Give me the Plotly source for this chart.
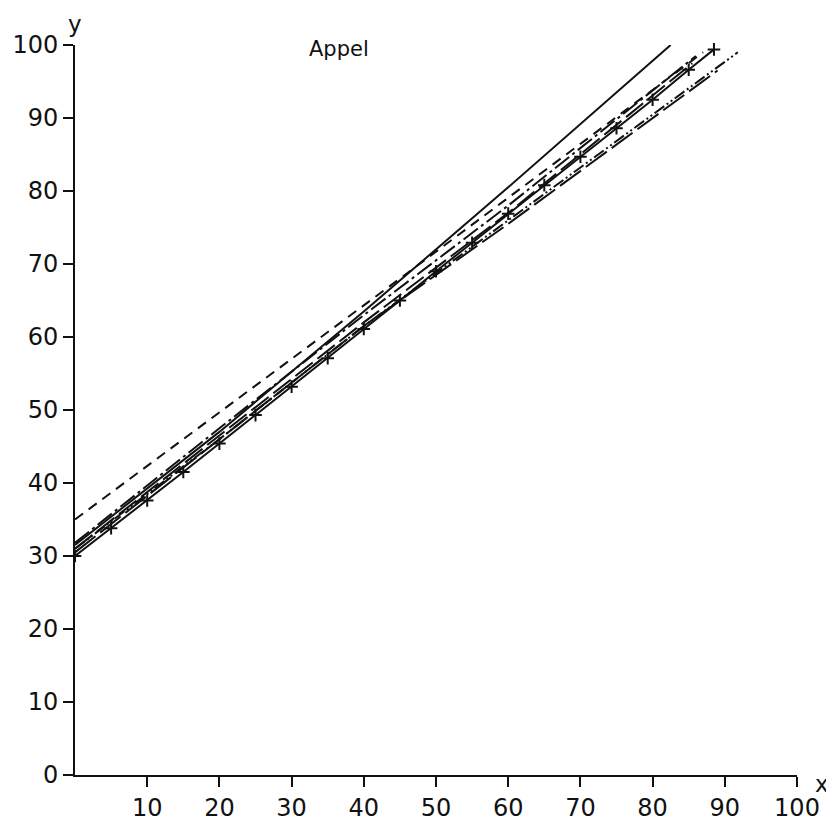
import plotly.graph_objects as go

# ---- data ----
x_dash = [0, 45, 87]
y_dash = [35, 68, 99]

x_solid = [0, 20, 40, 60, 82.5]
y_solid = [31.5, 47, 63.5, 80.5, 100]

x_ldd = [0, 20, 40, 60, 86]
y_ldd = [31.8, 47.5, 63, 78, 98.5]

x_ld = [0, 20, 40, 60, 85.5]
y_ld = [31, 46.5, 62, 77, 97.5]

x_cross = [0, 5, 10, 15, 20, 25, 30, 35, 40, 45, 50, 55, 60, 65, 70, 75, 80, 85, 88.5]
y_cross = [30, 33.8, 37.6, 41.5, 45.4, 49.3, 53.2, 57.1, 61.1, 65, 69, 72.9, 76.9, 80.8, 84.7, 88.6, 92.5, 96.6, 99.4]

x_dotted = [0, 20, 40, 60, 91.8]
y_dotted = [31, 46, 61.5, 76, 99]

x_low = [0, 20, 40, 60, 89]
y_low = [30.5, 46, 61.5, 75.5, 96.5]

x_ticks = [10, 20, 30, 40, 50, 60, 70, 80, 90, 100]
y_ticks = [0, 10, 20, 30, 40, 50, 60, 70, 80, 90, 100]

BLACK = "#111111"
FONT = "DejaVu Sans"

fig = go.Figure()

def add(x, y, dash, mode="lines", marker=None):
    tr = dict(x=x, y=y, mode=mode, line=dict(color=BLACK, width=2, dash=dash),
              showlegend=False, hoverinfo="skip", cliponaxis=False)
    if marker:
        tr["marker"] = marker
    fig.add_trace(go.Scatter(**tr))

add(x_dash, y_dash, "10px,7px")
add(x_solid, y_solid, "solid")
add(x_ldd, y_ldd, "18px,4px,3px,4px")
add(x_ld, y_ld, "22px,6px")
add(x_cross, y_cross, "solid", mode="lines+markers",
    marker=dict(symbol="cross-thin", size=9, line=dict(color=BLACK, width=2)))
add(x_dotted, y_dotted, "12px,3px,2px,3px,2px,3px")
add(x_low, y_low, "26px,6px")

axis_common = dict(range=[0, 100], showgrid=False, zeroline=False, showline=True,
                   linecolor=BLACK, linewidth=2, ticks="outside", ticklen=10,
                   tickwidth=2, tickcolor=BLACK, automargin=False,
                   tickfont=dict(family=FONT, size=24, color=BLACK))

fig.update_layout(
    width=826, height=822,
    margin=dict(l=67, r=37, t=37, b=55, autoexpand=False),
    plot_bgcolor="white", paper_bgcolor="white",
    font=dict(family=FONT, size=24, color=BLACK),
    xaxis=dict(tickvals=x_ticks, ticktext=[str(v) for v in x_ticks], **axis_common),
    yaxis=dict(tickvals=y_ticks, ticktext=[str(v) for v in y_ticks], **axis_common),
    annotations=[
        dict(text="Appel", x=36.5, y=99.4, xref="x", yref="y", showarrow=False,
             font=dict(family=FONT, size=21, color=BLACK)),
        dict(text="y", x=0, y=1, xref="paper", yref="paper", xanchor="center", yanchor="bottom",
             yshift=6, showarrow=False, font=dict(family=FONT, size=23, color=BLACK)),
        dict(text="x", x=1, y=0, xref="paper", yref="paper", xanchor="left", yanchor="middle",
             xshift=16, yshift=-9, showarrow=False, font=dict(family=FONT, size=23, color=BLACK)),
    ],
)

fig.write_html("out.html")
